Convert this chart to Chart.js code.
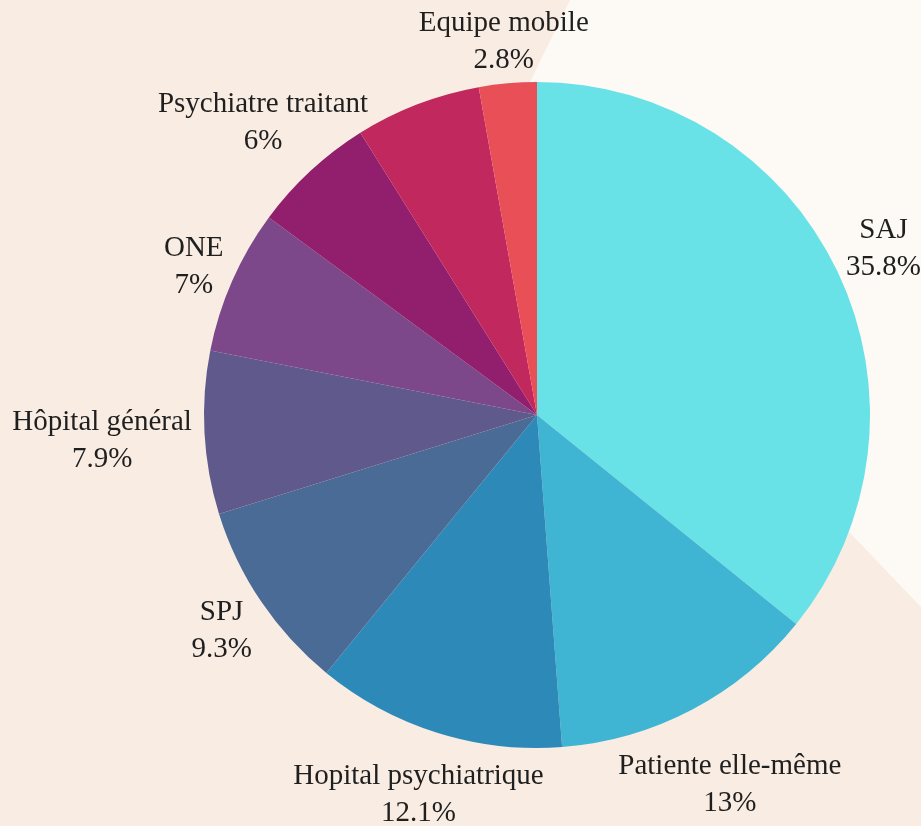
<!DOCTYPE html>
<html>
<head>
<meta charset="utf-8">
<script src="https://cdn.jsdelivr.net/npm/chart.js@4"></script>
<style>
  html, body { margin: 0; padding: 0; }
  body { width: 921px; height: 826px; background: #f8ece3; position: relative; overflow: hidden; }
  #light {
    position: absolute; left: 0; top: 0; width: 921px; height: 826px;
    background: #fdfaf5;
    clip-path: polygon(570px 0, 921px 0, 921px 607px, 852px 535px, 492px 160px);
  }
  #wrap { position: absolute; left: 0; top: 0; width: 921px; height: 826px; }
</style>
</head>
<body>
<div id="light"></div>
<div id="wrap"><canvas id="pieChart"></canvas></div>
<script>
// données
var categories = ['SAJ', 'Patiente elle-même', 'Hopital psychiatrique', 'SPJ', 'Hôpital général', 'ONE', 'Psychiatre traitant', '', 'Equipe mobile'];
var valeurs = [35.8, 13, 12.1, 9.3, 7.9, 7, 6, 6.1, 2.8];
var etiquettes = ['35.8%', '13%', '12.1%', '9.3%', '7.9%', '7%', '6%', '', '2.8%'];
var couleurs = ['#68e2e6', '#40b5d3', '#2d8ab8', '#4b6b97', '#5f598c', '#7c488a', '#911f6d', '#c0285e', '#e84f56'];

// distance d'un point (px,py) au rectangle le plus proche
function distanceBoite(px, py, x0, y0, x1, y1) {
  var nx = Math.max(x0, Math.min(px, x1));
  var ny = Math.max(y0, Math.min(py, y1));
  return Math.hypot(nx - px, ny - py);
}

// étiquettes à l'extérieur des parts, poussées hors du cercle
var labelsExterieurs = {
  id: 'labelsExterieurs',
  afterDatasetsDraw: function(chart) {
    var ctx = chart.ctx;
    var meta = chart.getDatasetMeta(0);
    ctx.save();
    ctx.font = '29px "Liberation Serif", serif';
    ctx.fillStyle = '#1f1f1f';
    ctx.textAlign = 'center';
    ctx.textBaseline = 'middle';
    var hauteurLigne = 37;
    var demiTexte = 13;
    var ecart = 12;
    meta.data.forEach(function(arc, i) {
      if (!categories[i]) return;
      var p = arc.getProps(['x', 'y', 'startAngle', 'endAngle', 'outerRadius'], true);
      var angle = (p.startAngle + p.endAngle) / 2;
      var dx = Math.cos(angle), dy = Math.sin(angle);
      var lignes = [categories[i], etiquettes[i]];
      var largeurs = lignes.map(function(t) { return ctx.measureText(t).width; });
      var cx, cy;
      for (var t = p.outerRadius; t < p.outerRadius + 400; t += 0.5) {
        cx = p.x + dx * t;
        cy = p.y + dy * t;
        var ok = lignes.every(function(l, k) {
          var ly = cy + (k - 0.5) * hauteurLigne;
          var d = distanceBoite(p.x, p.y, cx - largeurs[k] / 2, ly - demiTexte, cx + largeurs[k] / 2, ly + demiTexte);
          return d >= p.outerRadius + ecart;
        });
        if (ok) break;
      }
      var w = Math.max(largeurs[0], largeurs[1]);
      cx = Math.max(w / 2, Math.min(chart.width - w / 2, cx));
      cy = Math.max(hauteurLigne / 2 + demiTexte, Math.min(chart.height - hauteurLigne / 2 - demiTexte, cy)) + 3;
      ctx.fillText(lignes[0], cx, cy - hauteurLigne / 2);
      ctx.fillText(lignes[1], cx, cy + hauteurLigne / 2);
    });
    ctx.restore();
  }
};

var ctx = document.getElementById('pieChart').getContext('2d');
new Chart(ctx, {
  type: 'pie',
  data: {
    labels: categories,
    datasets: [{
      data: valeurs,
      backgroundColor: couleurs,
      borderWidth: 0
    }]
  },
  options: {
    responsive: true,
    maintainAspectRatio: false,
    animation: false,
    layout: { padding: { left: 204, right: 51, top: 82, bottom: 78 } },
    plugins: {
      legend: { display: false },
      tooltip: { enabled: false }
    }
  },
  plugins: [labelsExterieurs]
});
</script>
</body>
</html>
